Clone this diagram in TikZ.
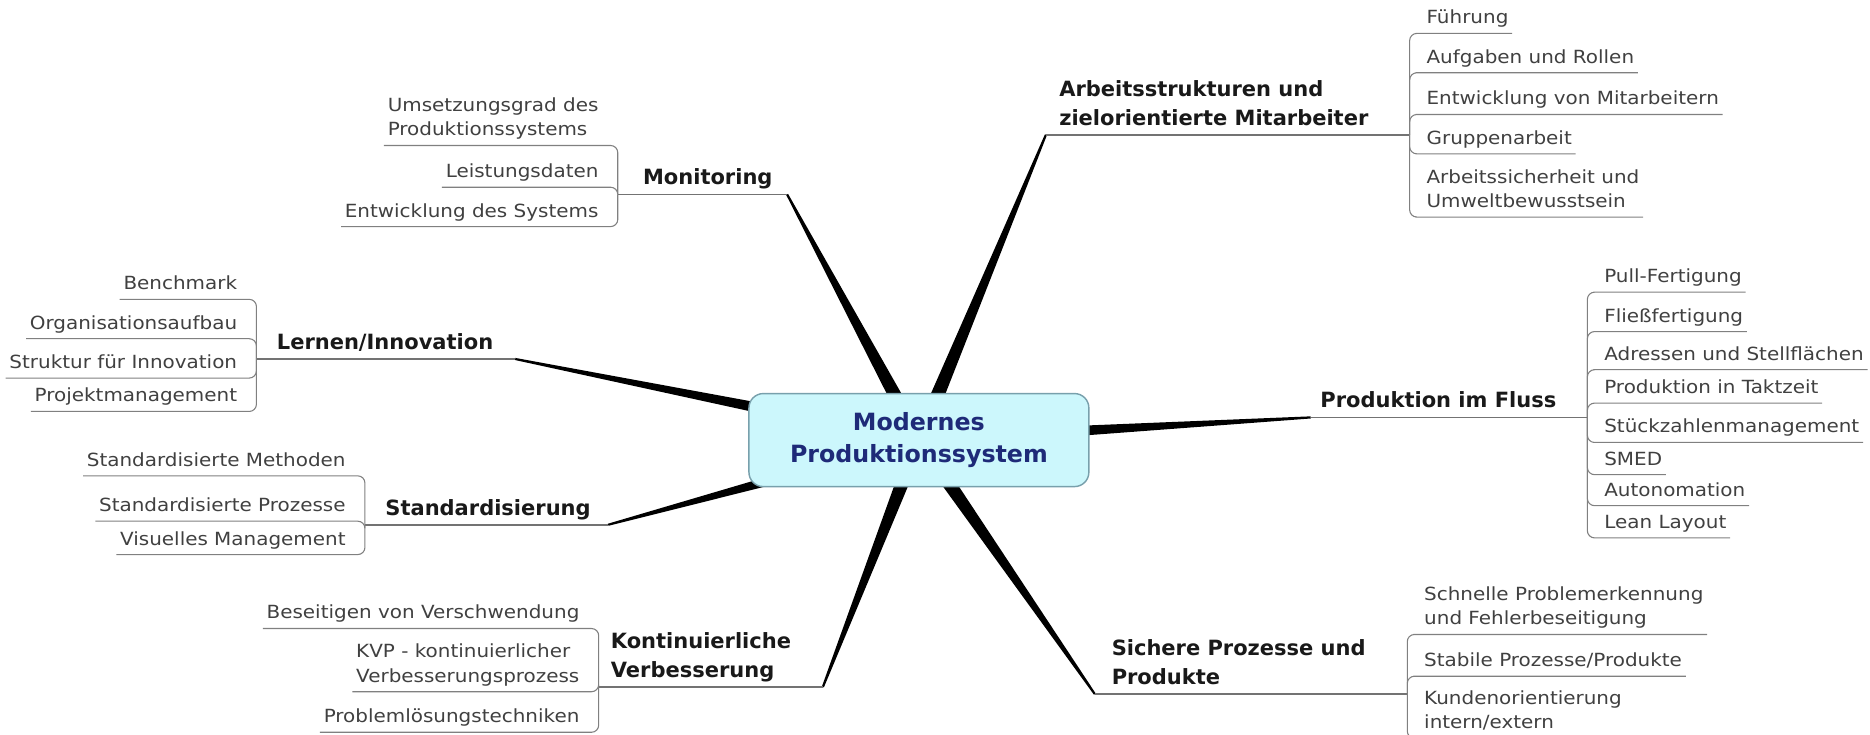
\documentclass[tikz,border=0pt]{standalone}
\usepackage{fontspec}
\setmainfont{DejaVu Sans}
\newfontfamily\subfnt{DejaVu Sans}[FakeStretch=1.1]
\usepackage{tikz}
\usetikzlibrary{calc}
\definecolor{CenterFill}{RGB}{204,247,252}
\definecolor{CenterLine}{RGB}{120,160,172}
\definecolor{CenterText}{RGB}{30,42,120}
\tikzstyle{Center} = [draw=CenterLine, fill=CenterFill, line width=1.2pt,
rounded corners=12pt, minimum width=285pt, minimum height=78pt,
align=center, text=CenterText, font=\bfseries\fontsize{19.9}{27}\selectfont]
\tikzstyle{Topic} = [anchor=south west, align=left, inner xsep=2pt,
inner ysep=3.5pt, text depth=4.4pt, text=black!90,
font=\bfseries\fontsize{17.6}{24}\selectfont]
\tikzstyle{SubR} = [anchor=south west, align=left, inner xsep=3pt,
inner ysep=4pt, text depth=3.8pt, text=black!75,
font=\subfnt\fontsize{15.2}{20.5}\selectfont]
\tikzstyle{SubL} = [SubR, anchor=south east]
\tikzstyle{TopicLine} = [draw=black!55, line width=1.3pt]
\tikzstyle{SubLine} = [draw=black!50, line width=0.9pt, rounded corners=6pt]
\tikzstyle{Branch} = [
fill=black,
to path={($(\tikztostart)!6.5pt!90:(\tikztotarget)$)
-- ($(\tikztotarget)!0.9pt!-90:(\tikztostart)$)
-- ($(\tikztotarget)!0.9pt!90:(\tikztostart)$)
-- ($(\tikztostart)!6.5pt!-90:(\tikztotarget)$) -- cycle}]

\begin{document}
\begin{tikzpicture}[x=1pt, y=-1pt]
    \useasboundingbox (0,0) rectangle (1568,616);
    \coordinate (c0) at (770.5,369);

    % wedge ends (w) and hubs (h)
    \coordinate (mon-w) at (660,163);  \coordinate (mon-h) at (518,163);
    \coordinate (arb-w) at (877,113);  \coordinate (arb-h) at (1182,113);
    \coordinate (ler-w) at (432,301);  \coordinate (ler-h) at (215,301);
    \coordinate (pro-w) at (1099,350); \coordinate (pro-h) at (1331,350);
    \coordinate (sta-w) at (510,440);  \coordinate (sta-h) at (306,440);
    \coordinate (kon-w) at (690,576);  \coordinate (kon-h) at (502,576);
    \coordinate (sic-w) at (918,582);  \coordinate (sic-h) at (1180,582);

    \fill[Branch] (c0) to (mon-w);
    \fill[Branch] (c0) to (arb-w);
    \fill[Branch] (c0) to (ler-w);
    \fill[Branch] (c0) to (pro-w);
    \fill[Branch] (c0) to (sta-w);
    \fill[Branch] (c0) to (kon-w);
    \fill[Branch] (c0) to (sic-w);

    \node[Center] (c) at (c0) {Modernes\\Produktionssystem};

    % Monitoring
    \node[Topic] (mon) at (537,163) {Monitoring};
    \draw[TopicLine] (mon-h) -- (mon-w);
    \node[SubL] (mon1) at (505,122) {Umsetzungsgrad des\\Produktionssystems};
    \node[SubL] (mon2) at (505,157) {Leistungsdaten};
    \node[SubL] (mon3) at (505,190) {Entwicklung des Systems};
    \draw[SubLine] (mon-h) |- (mon1.south east) -- (mon1.south west);
    \draw[SubLine] (mon-h) |- (mon2.south east) -- (mon2.south west);
    \draw[SubLine] (mon-h) |- (mon3.south east) -- (mon3.south west);

    % Arbeitsstrukturen
    \node[Topic] (arb) at (886,113) {Arbeitsstrukturen und\\zielorientierte Mitarbeiter};
    \draw[TopicLine] (arb-w) -- (arb-h);
    \node[SubR] (arb1) at (1193,28) {Führung};
    \node[SubR] (arb2) at (1193,61) {Aufgaben und Rollen};
    \node[SubR] (arb3) at (1193,96) {Entwicklung von Mitarbeitern};
    \node[SubR] (arb4) at (1193,129) {Gruppenarbeit};
    \node[SubR] (arb5) at (1193,182) {Arbeitssicherheit und\\Umweltbewusstsein};
    \draw[SubLine] (arb-h) |- (arb1.south west) -- (arb1.south east);
    \draw[SubLine] (arb-h) |- (arb2.south west) -- (arb2.south east);
    \draw[SubLine] (arb-h) |- (arb3.south west) -- (arb3.south east);
    \draw[SubLine] (arb-h) |- (arb4.south west) -- (arb4.south east);
    \draw[SubLine] (arb-h) |- (arb5.south west) -- (arb5.south east);

    % Lernen/Innovation
    \node[Topic] (ler) at (230,301) {Lernen/Innovation};
    \draw[TopicLine] (ler-h) -- (ler-w);
    \node[SubL] (ler1) at (202,251) {Benchmark};
    \node[SubL] (ler2) at (202,284) {Organisationsaufbau};
    \node[SubL] (ler3) at (202,317) {Struktur für Innovation};
    \node[SubL] (ler4) at (202,345) {Projektmanagement};
    \draw[SubLine] (ler-h) |- (ler1.south east) -- (ler1.south west);
    \draw[SubLine] (ler-h) |- (ler2.south east) -- (ler2.south west);
    \draw[SubLine] (ler-h) |- (ler3.south east) -- (ler3.south west);
    \draw[SubLine] (ler-h) |- (ler4.south east) -- (ler4.south west);

    % Produktion im Fluss
    \node[Topic] (pro) at (1105,350) {Produktion im Fluss};
    \draw[TopicLine] (pro-w) -- (pro-h);
    \node[SubR] (pro1) at (1342,245) {Pull-Fertigung};
    \node[SubR] (pro2) at (1342,278) {Fließfertigung};
    \node[SubR] (pro3) at (1342,310) {Adressen und Stellflächen};
    \node[SubR] (pro4) at (1342,338) {Produktion in Taktzeit};
    \node[SubR] (pro5) at (1342,371) {Stückzahlenmanagement};
    \node[SubR] (pro6) at (1342,398) {SMED};
    \node[SubR] (pro7) at (1342,424) {Autonomation};
    \node[SubR] (pro8) at (1342,451) {Lean Layout};
    \draw[SubLine] (pro-h) |- (pro1.south west) -- (pro1.south east);
    \draw[SubLine] (pro-h) |- (pro2.south west) -- (pro2.south east);
    \draw[SubLine] (pro-h) |- (pro3.south west) -- (pro3.south east);
    \draw[SubLine] (pro-h) |- (pro4.south west) -- (pro4.south east);
    \draw[SubLine] (pro-h) |- (pro5.south west) -- (pro5.south east);
    \draw[SubLine] (pro-h) |- (pro6.south west) -- (pro6.south east);
    \draw[SubLine] (pro-h) |- (pro7.south west) -- (pro7.south east);
    \draw[SubLine] (pro-h) |- (pro8.south west) -- (pro8.south east);

    % Standardisierung
    \node[Topic] (sta) at (321,440) {Standardisierung};
    \draw[TopicLine] (sta-h) -- (sta-w);
    \node[SubL] (sta1) at (293,399) {Standardisierte Methoden};
    \node[SubL] (sta2) at (293,437) {Standardisierte Prozesse};
    \node[SubL] (sta3) at (293,465) {Visuelles Management};
    \draw[SubLine] (sta-h) |- (sta1.south east) -- (sta1.south west);
    \draw[SubLine] (sta-h) |- (sta2.south east) -- (sta2.south west);
    \draw[SubLine] (sta-h) |- (sta3.south east) -- (sta3.south west);

    % Kontinuierliche Verbesserung
    \node[Topic] (kon) at (510,576) {Kontinuierliche\\Verbesserung};
    \draw[TopicLine] (kon-h) -- (kon-w);
    \node[SubL] (kon1) at (489,527) {Beseitigen von Verschwendung};
    \node[SubL] (kon2) at (489,580) {KVP - kontinuierlicher\\Verbesserungsprozess};
    \node[SubL] (kon3) at (489,614) {Problemlösungstechniken};
    \draw[SubLine] (kon-h) |- (kon1.south east) -- (kon1.south west);
    \draw[SubLine] (kon-h) |- (kon2.south east) -- (kon2.south west);
    \draw[SubLine] (kon-h) |- (kon3.south east) -- (kon3.south west);

    % Sichere Prozesse und Produkte
    \node[Topic] (sic) at (930,582) {Sichere Prozesse und\\Produkte};
    \draw[TopicLine] (sic-w) -- (sic-h);
    \node[SubR] (sic1) at (1191,532) {Schnelle Problemerkennung\\und Fehlerbeseitigung};
    \node[SubR] (sic2) at (1191,567) {Stabile Prozesse/Produkte};
    \node[SubR] (sic3) at (1191,619) {Kundenorientierung\\intern/extern};
    \draw[SubLine] (sic-h) |- (sic1.south west) -- (sic1.south east);
    \draw[SubLine] (sic-h) |- (sic2.south west) -- (sic2.south east);
    \draw[SubLine] (sic-h) |- (sic3.south west) -- (sic3.south east);
\end{tikzpicture}
\end{document}
